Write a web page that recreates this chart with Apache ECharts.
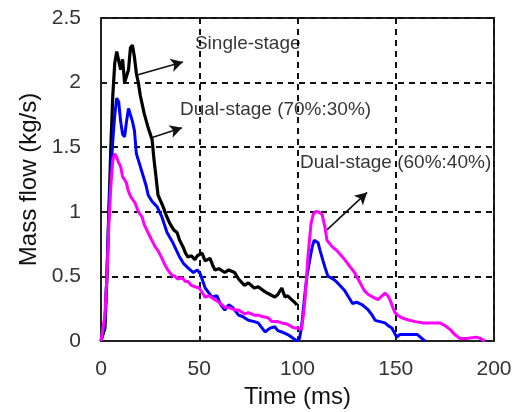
<!DOCTYPE html>
<html>
<head>
<meta charset="utf-8">
<script src="https://cdn.jsdelivr.net/npm/echarts@6/dist/echarts.min.js"></script>
<style>
html,body{margin:0;padding:0;background:#fff;}
#chart{width:521px;height:412px;}
</style>
</head>
<body>
<div id="chart"></div>
<script>
// Tick values
const xTicks = [0, 50, 100, 150, 200];
const yTicks = [0, 0.5, 1, 1.5, 2, 2.5];

// Series: [time (ms), mass flow (kg/s)]
const singleStage = [[0,0],[1,0],[2,0.1],[3,0.5],[4,1.0],[5,1.5],[6,1.9],[7,2.15],[8,2.24],[9,2.25],[10,2.1],[11,2.18],[12,2.0],[13,2.0],[14,2.1],[15,2.27],[16,2.29],[17,2.2],[18,2.07],[19,2.0],[20,1.9],[22,1.76],[24,1.65],[26,1.56],[27,1.4],[28,1.27],[29,1.13],[31.6,1.04],[33,0.98],[35,0.91],[37,0.86],[38.7,0.84],[40,0.78],[41.7,0.73],[43,0.68],[44.3,0.65],[46,0.66],[47.8,0.63],[49,0.66],[51.4,0.68],[53,0.62],[55.5,0.64],[57,0.58],[58,0.55],[60,0.56],[63,0.53],[65,0.55],[68,0.53],[70,0.48],[73,0.43],[75,0.45],[78,0.41],[80,0.42],[83.5,0.38],[86,0.36],[88.5,0.34],[90,0.36],[92,0.41],[93.6,0.34],[95,0.35],[97,0.32],[98.5,0.3],[99.7,0.28]];

const dualStage7030 = [[0,0],[1,0],[2,0.15],[3,0.5],[4,1.0],[5,1.3],[6,1.55],[7,1.75],[8,1.88],[9,1.85],[10,1.7],[11,1.6],[12,1.58],[13,1.7],[14,1.8],[15,1.81],[16,1.7],[17,1.63],[18,1.45],[19,1.4],[21,1.3],[23,1.2],[24,1.13],[26,1.08],[28.5,1.04],[31,0.96],[33.6,0.84],[36.6,0.76],[40,0.65],[42,0.6],[44,0.57],[47,0.53],[49,0.55],[50.5,0.52],[53,0.41],[56.5,0.34],[59,0.35],[61,0.28],[63,0.24],[65,0.28],[67,0.26],[70,0.2],[72,0.19],[75,0.16],[78,0.15],[80,0.14],[82,0.1],[83.5,0.07],[86,0.1],[88.5,0.11],[90,0.08],[92,0.07],[95,0.05],[97,0.03],[98.7,0.01],[100,0],[101,0.02],[102,0.1],[103,0.25],[104,0.4],[105,0.52],[106.5,0.65],[107.5,0.73],[108.5,0.78],[109.5,0.79],[110.5,0.76],[111.5,0.7],[113,0.62],[114,0.57],[115.5,0.5],[117,0.49],[119,0.47],[121,0.44],[124,0.39],[126,0.34],[128,0.29],[130,0.3],[133,0.28],[136,0.24],[138,0.2],[139.5,0.16],[142,0.15],[144.5,0.14],[146,0.12],[148,0.1],[150.5,0.03],[152,0.05],[156,0.05],[161,0.05],[164,0.01],[165,0]];

const dualStage6040 = [[0,0],[1,0],[2,0.2],[3,0.5],[4,0.9],[5,1.2],[6,1.4],[7,1.45],[8,1.42],[9,1.38],[10,1.35],[11,1.27],[12,1.25],[13,1.22],[13.7,1.17],[15,1.12],[17.3,1.07],[19,1.0],[20.9,0.96],[22,0.9],[23.9,0.84],[25.5,0.79],[27.5,0.73],[29,0.7],[31,0.64],[32.5,0.59],[34,0.55],[36,0.51],[37.7,0.5],[39,0.48],[41.2,0.49],[43,0.46],[44.3,0.46],[46,0.43],[47.8,0.42],[50,0.41],[53,0.34],[55,0.35],[58,0.32],[60,0.3],[63,0.26],[65,0.26],[68,0.24],[70,0.24],[73,0.21],[75,0.22],[78,0.2],[80,0.2],[82,0.19],[85,0.18],[87,0.15],[90,0.15],[92,0.14],[95,0.13],[97,0.11],[98.7,0.1],[100.3,0.1],[102,0.09],[103,0.2],[103.8,0.32],[105.3,0.65],[106.9,0.91],[108,0.98],[108.9,1.0],[110.5,1.0],[112.5,0.98],[114,0.88],[115,0.78],[117.6,0.73],[120,0.7],[124,0.63],[126.5,0.58],[129,0.53],[131.5,0.46],[134,0.39],[136,0.36],[138.4,0.34],[141,0.32],[143,0.35],[144.5,0.37],[146,0.35],[147,0.32],[148.5,0.26],[149.6,0.22],[151,0.2],[153,0.18],[157,0.16],[160,0.15],[164,0.14],[168,0.14],[172.5,0.14],[175,0.12],[177.6,0.09],[180,0.05],[182.7,0.02],[186,0.02],[191,0.03],[193,0.02],[195.4,0]];

// Annotation labels
const labelTexts = ['Single-stage', 'Dual-stage (70%:30%)', 'Dual-stage (60%:40%)'];

const FONT = 'Liberation Sans, Arial, sans-serif';
const chart = echarts.init(document.getElementById('chart'), null, {renderer: 'canvas'});

const arrowStyle = {color: '#111', width: 1.6, type: 'solid'};

chart.setOption({
  animation: false,
  backgroundColor: '#fff',
  grid: {
    left: 101, right: 27, top: 18, bottom: 71,
    show: true, borderColor: '#222', borderWidth: 2,
    outerBoundsMode: 'none', containLabel: false
  },
  xAxis: {
    type: 'value', min: xTicks[0], max: xTicks[xTicks.length - 1], interval: 50,
    name: 'Time (ms)', nameLocation: 'middle', nameGap: 40,
    nameTextStyle: {fontFamily: FONT, fontSize: 24, color: '#111'},
    axisLine: {show: true, lineStyle: {color: '#222', width: 2}},
    axisTick: {show: true, inside: true, length: 5, lineStyle: {color: '#222', width: 1.5}},
    axisLabel: {fontFamily: FONT, fontSize: 21, color: '#333', margin: 18},
    splitLine: {show: true, lineStyle: {color: '#111', width: 2, type: [6, 5]}}
  },
  yAxis: {
    type: 'value', min: yTicks[0], max: yTicks[yTicks.length - 1], interval: 0.5,
    name: 'Mass flow (kg/s)', nameLocation: 'middle', nameGap: 58,
    nameTextStyle: {fontFamily: FONT, fontSize: 24, color: '#111'},
    axisLine: {show: true, lineStyle: {color: '#222', width: 2}},
    axisTick: {show: true, inside: true, length: 5, lineStyle: {color: '#222', width: 1.5}},
    axisLabel: {fontFamily: FONT, fontSize: 21, color: '#333', margin: 20},
    splitLine: {show: true, lineStyle: {color: '#111', width: 2, type: [6, 5]}}
  },
  series: [
    {
      name: 'Single-stage', type: 'line', data: singleStage, showSymbol: false,
      lineStyle: {color: '#000', width: 3.2}, itemStyle: {color: '#000'}, z: 3,
      markLine: {
        silent: true, symbol: ['none', 'arrow'], symbolSize: [10, 12],
        label: {show: false}, lineStyle: arrowStyle, animation: false,
        data: [
          [{coord: [18.8, 2.06]}, {coord: [41.7, 2.16]}],
          [{coord: [24.9, 1.57]}, {coord: [41.2, 1.65]}],
          [{coord: [115, 0.86]}, {coord: [135.4, 1.15]}]
        ]
      }
    },
    {
      name: 'Dual-stage (70%:30%)', type: 'line', data: dualStage7030, showSymbol: false,
      lineStyle: {color: '#0000ff', width: 3}, itemStyle: {color: '#0000ff'}, z: 4
    },
    {
      name: 'Dual-stage (60%:40%)', type: 'line', data: dualStage6040, showSymbol: false,
      lineStyle: {color: '#ff00ff', width: 3}, itemStyle: {color: '#ff00ff'}, z: 5
    },
    {
      name: 'labels', type: 'scatter', symbolSize: 0, silent: true, z: 6,
      label: {show: true, position: 'right', distance: 0, fontFamily: FONT, fontSize: 19, color: '#000',
        formatter: p => p.name},
      data: [
        {name: labelTexts[0], value: [47.8, 2.30]},
        {name: labelTexts[1], value: [40.2, 1.79]},
        {name: labelTexts[2], value: [101.3, 1.38]}
      ]
    }
  ]
});
</script>
</body>
</html>
